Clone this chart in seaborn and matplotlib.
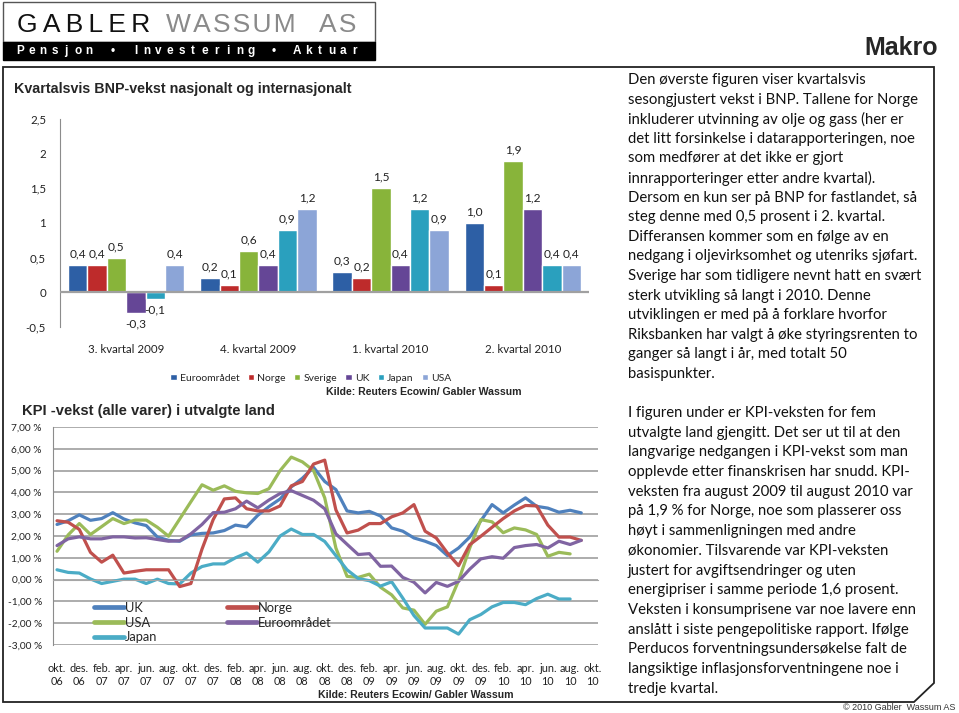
import numpy as np
import pandas as pd
import matplotlib
matplotlib.use("Agg")
import matplotlib.pyplot as plt
import seaborn as sns
from matplotlib.patches import Patch, Polygon, Rectangle

# BNP-vekst per kvartal (prosent)
kvartaler = ["3. kvartal 2009", "4. kvartal 2009", "1. kvartal 2010", "2. kvartal 2010"]
bnp_land = ["Euroområdet", "Norge", "Sverige", "UK", "Japan", "USA"]
bnp_euro = [0.4, 0.2, 0.3, 1.0]
bnp_norge = [0.4, 0.1, 0.2, 0.1]
bnp_sverige = [0.5, 0.6, 1.5, 1.9]
bnp_uk = [-0.3, 0.4, 0.4, 1.2]
bnp_japan = [-0.1, 0.9, 1.2, 0.4]
bnp_usa = [0.4, 1.2, 0.9, 0.4]
bnp_ticks = ["-0,5", "0", "0,5", "1", "1,5", "2", "2,5"]

# KPI-vekst, maanedlig okt. 06 - okt. 10 (prosent)
nan = np.nan
kpi_uk = [2.53, 2.7, 2.97, 2.72, 2.8, 3.07, 2.78, 2.6, 2.48, 1.95, 1.8, 1.76, 2.05, 2.12, 2.14, 2.25,
          2.5, 2.42, 2.95, 3.35, 3.7, 4.25, 4.65, 5.15, 4.5, 4.13, 3.15, 3.06, 3.13, 2.92, 2.37, 2.22,
          1.91, 1.76, 1.56, 1.1, 1.45, 1.95, 2.7, 3.44, 3.06, 3.42, 3.75, 3.36, 3.28, 3.09, 3.18, 3.06, nan]
kpi_norge = [2.7, 2.63, 2.3, 1.25, 0.8, 1.12, 0.3, 0.38, 0.45, 0.45, 0.45, -0.32, -0.18, 1.4, 2.75, 3.7,
             3.75, 3.25, 3.15, 3.15, 3.38, 4.3, 4.5, 5.3, 5.48, 3.2, 2.14, 2.27, 2.57, 2.57, 2.88, 3.06,
             3.44, 2.22, 1.91, 1.22, 0.64, 1.6, 1.99, 2.4, 2.8, 3.15, 3.4, 3.38, 2.5, 1.95, 1.95, 1.8, nan]
kpi_usa = [1.3, 2.05, 2.57, 2.07, 2.43, 2.8, 2.57, 2.73, 2.73, 2.4, 1.99, 2.78, 3.57, 4.35, 4.1, 4.3,
           4.05, 3.98, 3.95, 4.17, 5.0, 5.62, 5.4, 5.0, 3.75, 1.45, 0.15, 0.1, 0.25, -0.35, -0.7, -1.3,
           -1.4, -2.05, -1.45, -1.25, -0.05, 1.45, 2.75, 2.65, 2.15, 2.37, 2.28, 2.07, 1.07, 1.25, 1.18, nan, nan]
kpi_euro = [1.56, 1.87, 1.96, 1.87, 1.87, 1.96, 1.96, 1.91, 1.92, 1.84, 1.76, 1.78, 2.1, 2.53, 3.07, 3.09,
            3.25, 3.6, 3.29, 3.65, 3.95, 4.08, 3.86, 3.64, 3.25, 2.1, 1.62, 1.15, 1.19, 0.61, 0.62, 0.1,
            -0.12, -0.61, -0.13, -0.31, -0.08, 0.48, 0.95, 1.05, 0.98, 1.47, 1.56, 1.61, 1.45, 1.76, 1.61, 1.8, nan]
kpi_japan = [0.45, 0.33, 0.3, 0.03, -0.18, -0.08, 0.02, 0.02, -0.18, 0.02, -0.18, -0.2, 0.3, 0.6, 0.72, 0.72,
             1.0, 1.22, 0.8, 1.27, 2.0, 2.32, 2.07, 2.07, 1.75, 1.1, 0.45, 0.05, -0.05, -0.3, -0.1, -0.85,
             -1.65, -2.22, -2.22, -2.22, -2.5, -1.84, -1.6, -1.25, -1.05, -1.05, -1.15, -0.87, -0.67, -0.89, -0.89, nan, nan]
kpi_ticks = ["okt.\n06", "des.\n06", "feb.\n07", "apr.\n07", "jun.\n07", "aug.\n07", "okt.\n07",
             "des.\n07", "feb.\n08", "apr.\n08", "jun.\n08", "aug.\n08", "okt.\n08", "des.\n08",
             "feb.\n09", "apr.\n09", "jun.\n09", "aug.\n09", "okt.\n09", "des.\n09", "feb.\n10",
             "apr.\n10", "jun.\n10", "aug.\n10", "okt.\n10"]

tekst_1 = [
    "Den øverste figuren viser kvartalsvis",
    "sesongjustert vekst i BNP. Tallene for Norge",
    "inkluderer utvinning av olje og gass (her er",
    "det litt forsinkelse i datarapporteringen, noe",
    "som medfører at det ikke er gjort",
    "innrapporteringer etter andre kvartal).",
    "Dersom en kun ser på BNP for fastlandet, så",
    "steg denne med 0,5 prosent i 2. kvartal.",
    "Differansen kommer som en følge av en",
    "nedgang i oljevirksomhet og utenriks sjøfart.",
    "Sverige har som tidligere nevnt hatt en svært",
    "sterk utvikling så langt i 2010. Denne",
    "utviklingen er med på å forklare hvorfor",
    "Riksbanken har valgt å øke styringsrenten to",
    "ganger så langt i år, med totalt 50",
    "basispunkter.",
]
tekst_2 = [
    "I figuren under er KPI-veksten for fem",
    "utvalgte land gjengitt. Det ser ut til at den",
    "langvarige nedgangen i KPI-vekst som man",
    "opplevde etter finanskrisen har snudd. KPI-",
    "veksten fra august 2009 til august 2010 var",
    "på 1,9 % for Norge, noe som plasserer oss",
    "høyt i sammenligningen med andre",
    "økonomier. Tilsvarende var KPI-veksten",
    "justert for avgiftsendringer og uten",
    "energipriser i samme periode 1,6 prosent.",
    "Veksten i konsumprisene var noe lavere enn",
    "anslått i siste pengepolitiske rapport. Ifølge",
    "Perducos forventningsundersøkelse falt de",
    "langsiktige inflasjonsforventningene noe i",
    "tredje kvartal.",
]

bar_farger = {"Euroområdet": "#2d5fa5", "Norge": "#be2b2b", "Sverige": "#88b43a",
              "UK": "#654696", "Japan": "#2aa0be", "USA": "#8ca5d7"}
kpi_farger = {"UK": "#4f81bd", "Norge": "#c0504d", "USA": "#9bbb59",
              "Euroområdet": "#8064a2", "Japan": "#4bacc6"}
kpi_rekkefolge = ["UK", "USA", "Japan", "Norge", "Euroområdet"]

W, H = 959, 713
sns.set_style("white")
plt.rcParams["font.family"] = ["Lato", "DejaVu Sans"]
ARIAL = ["Liberation Sans", "DejaVu Sans"]

fig = plt.figure(figsize=(W / 100, H / 100), dpi=100)


def fx(x):
    return x / W


def fy(y):
    return 1 - y / H


def boks(x0, y0, x1, y1):
    return [fx(x0), fy(y1), fx(x1) - fx(x0), fy(y0) - fy(y1)]


# ramme og logo
fig.add_artist(Polygon([(fx(3), fy(67)), (fx(934), fy(67)), (fx(934), fy(683)), (fx(914), fy(702)),
                        (fx(3), fy(702))], closed=True, fill=False, edgecolor="#222222", lw=1.3,
                       transform=fig.transFigure))
fig.add_artist(Rectangle((fx(3), fy(42)), fx(372), 40 / H, facecolor="white", edgecolor="#555555",
                         lw=1.0, transform=fig.transFigure))
fig.add_artist(Rectangle((fx(3), fy(60)), fx(372), 18 / H, facecolor="black", edgecolor="black",
                         lw=1.0, transform=fig.transFigure))
fig.text(fx(17), fy(32), "\u2009".join("GABLER"), fontsize=19, family=ARIAL, color="#111111",
         va="baseline")
fig.text(fx(166), fy(32), "\u200a".join("WASSUM"), fontsize=19, family=ARIAL, color="#8a8a8a",
         va="baseline")
fig.text(fx(319), fy(32), "\u200a".join("AS"), fontsize=19, family=ARIAL, color="#8a8a8a", va="baseline")
slagord = "Pensjon • Investering • Aktuar"
for k, ch in enumerate(slagord):
    fig.text(fx(20 + k * 11.55), fy(51), ch, fontsize=8.5, family=ARIAL, fontweight="bold",
             color="white", ha="center", va="center")
fig.text(fx(938), fy(48), "Makro", fontsize=18, family=ARIAL, fontweight="bold", ha="right", va="center")

# BNP-figur
fig.text(fx(14), fy(89), "Kvartalsvis BNP-vekst nasjonalt og internasjonalt", fontsize=10.3,
         family=ARIAL, fontweight="bold", va="center")

bnp_wide = pd.DataFrame({"Euroområdet": bnp_euro, "Norge": bnp_norge, "Sverige": bnp_sverige,
                         "UK": bnp_uk, "Japan": bnp_japan, "USA": bnp_usa})
bnp_wide["kvartal"] = kvartaler
bnp_long = bnp_wide.melt(id_vars="kvartal", var_name="land", value_name="vekst")

ax1 = fig.add_axes(boks(60, 119, 589, 327))
sns.barplot(data=bnp_long, x="kvartal", y="vekst", hue="land", hue_order=bnp_land, palette=bar_farger,
            saturation=1, width=0.88, errorbar=None, legend=False, ax=ax1)
for cont in ax1.containers:
    ax1.bar_label(cont, labels=[f"{v:.1f}".replace(".", ",") for v in cont.datavalues],
                  padding=4, fontsize=8.6, color="#222222")
ax1.set_xlim(-0.5, 3.5)
ax1.set_ylim(-0.5, 2.5)
ax1.set_yticks(np.arange(-0.5, 2.51, 0.5), bnp_ticks)
ax1.set_xlabel("")
ax1.set_ylabel("")
sns.despine(ax=ax1, bottom=True)
ax1.spines["left"].set_color("#8c8c8c")
ax1.axhline(0, color="#a0a0a0", lw=1.6, zorder=3)
ax1.tick_params(axis="both", length=0, labelsize=8.3, colors="#222222")
ax1.tick_params(axis="x", pad=12)
ax1.tick_params(axis="y", pad=10)

fig.legend(handles=[Patch(facecolor=bar_farger[l], label=l) for l in bnp_land], loc="center",
           bbox_to_anchor=(fx(311), fy(378)), ncol=6, frameon=False, fontsize=7.5, handlelength=0.6,
           handleheight=0.6, handletextpad=0.3, columnspacing=0.8)
fig.text(fx(424), fy(392), "Kilde: Reuters Ecowin/ Gabler Wassum", fontsize=7.6, family=ARIAL,
         fontweight="bold", ha="center", va="center")

# KPI-figur
fig.text(fx(22), fy(411), "KPI -vekst (alle varer) i utvalgte land", fontsize=10.6, family=ARIAL,
         fontweight="bold", va="center")

kpi_wide = pd.DataFrame({"UK": kpi_uk, "Norge": kpi_norge, "USA": kpi_usa, "Euroområdet": kpi_euro,
                         "Japan": kpi_japan})
kpi_wide["nr"] = np.arange(len(kpi_uk))
kpi_long = kpi_wide.melt(id_vars="nr", var_name="land", value_name="kpi")

ax2 = fig.add_axes(boks(53, 427, 598, 645))
sns.lineplot(data=kpi_long, x="nr", y="kpi", hue="land", hue_order=kpi_rekkefolge, palette=kpi_farger,
             linewidth=2.3, estimator=None, ax=ax2)
ax2.set_xlim(-0.36, 48.5)
ax2.set_ylim(-3, 7)
ax2.set_yticks(np.arange(-3, 8), [f"{v:.2f} %".replace(".", ",") for v in np.arange(-3, 8)])
ax2.set_xlabel("")
ax2.set_ylabel("")
ax2.grid(axis="y", color="#a6a6a6", lw=1.3)
ax2.set_axisbelow(True)
sns.despine(ax=ax2)
ax2.spines["left"].set_color("#8c8c8c")
ax2.spines["bottom"].set_color("#a6a6a6")
ax2.spines["bottom"].set_position(("data", 0))
ax2.set_xticks(np.arange(0, 49, 2))
ax2.tick_params(axis="x", length=4, color="#8c8c8c", labelbottom=False)
ax2.tick_params(axis="y", length=3, color="#8c8c8c", labelsize=7.3, pad=5, colors="#222222")
ax2.tick_params(axis="y", color="#8c8c8c")

sek = ax2.secondary_xaxis("bottom")
sek.set_xticks(np.arange(0, 49, 2), kpi_ticks)
sek.tick_params(length=0, pad=13, labelsize=7.8, colors="#222222")
sek.spines["bottom"].set_visible(False)

handles, labels = ax2.get_legend_handles_labels()
leg = ax2.legend(handles, labels, ncol=2, loc="upper left", bbox_to_anchor=(fx(94), fy(602)),
                 bbox_transform=fig.transFigure, frameon=False, fontsize=9.3, handlelength=2.3,
                 handletextpad=0.1, columnspacing=5.4, labelspacing=0.2, borderpad=0, borderaxespad=0)
for line in leg.get_lines():
    line.set_linewidth(3.4)

fig.text(fx(416), fy(695), "Kilde: Reuters Ecowin/ Gabler Wassum", fontsize=7.6, family=ARIAL,
         fontweight="bold", ha="center", va="center")

# tekst til hoeyre
for k, linje in enumerate(tekst_1):
    fig.text(fx(628), fy(80 + k * 19.6), linje, fontsize=10.7, color="#111111", va="center")
for k, linje in enumerate(tekst_2):
    fig.text(fx(628), fy(413 + k * 19.7), linje, fontsize=10.7, color="#111111", va="center")

fig.text(fx(955), fy(707), "© 2010 Gabler  Wassum AS", fontsize=6.5, family=ARIAL, color="#333333",
         ha="right", va="center")

fig.savefig("out.png", dpi=100)
